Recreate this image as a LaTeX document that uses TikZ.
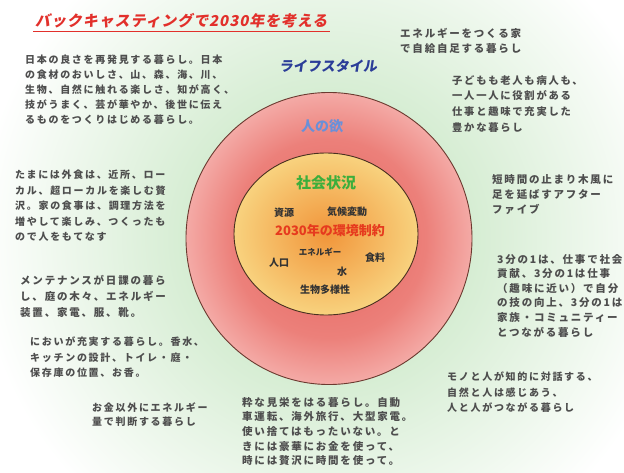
\documentclass[tikz,border=0pt]{standalone}
\usepackage{fontspec}
\newfontfamily\jp{Noto Sans CJK JP}[LetterSpace=17]
\newfontfamily\jpn{Noto Sans CJK JP}
\newfontfamily\jpt{Noto Sans CJK JP}[FakeSlant=0.2,LetterSpace=6]
\newfontfamily\jps{Noto Sans CJK JP}[FakeSlant=0.15]
\newcommand\tf[2]{\jp\bfseries\fontsize{#1}{#2}\selectfont}
\definecolor{txtgray}{HTML}{4E4E4E}
\definecolor{bgG}{HTML}{D6EDD3}
\definecolor{redC}{HTML}{E4625D}
\definecolor{redM}{HTML}{EC807A}
\definecolor{redE}{HTML}{F4AAA6}
\definecolor{orC}{HTML}{F1953A}
\definecolor{orE}{HTML}{F8D27E}
\definecolor{rim}{HTML}{6B3A30}
\definecolor{rimo}{HTML}{4A3020}
\definecolor{titred}{HTML}{E2302B}
\definecolor{lsblue}{HTML}{2B3D98}
\definecolor{yokublue}{HTML}{6A90D8}
\definecolor{shagreen}{HTML}{3CAE3C}
\definecolor{envred}{HTML}{E63A1E}
\definecolor{lbl}{HTML}{333333}
\pgfdeclareradialshading{bgsh}{\pgfpoint{0bp}{0bp}}{color(0bp)=(bgG); color(9bp)=(bgG); color(22bp)=(white); color(50bp)=(white)}
\pgfdeclareradialshading{redsh}{\pgfpoint{0bp}{0bp}}{color(0bp)=(redC); color(17bp)=(redM); color(25bp)=(redE); color(50bp)=(redE)}
\pgfdeclareradialshading{orsh}{\pgfpoint{0bp}{0bp}}{color(0bp)=(orC); color(25bp)=(orE); color(50bp)=(orE)}
\tikzset{
  txt/.style={inner sep=0pt, anchor=north west, align=left, text=txtgray, font=\tf{10.5}{15}},
  lab/.style={inner sep=0pt, text=lbl, font=\jpn\bfseries\fontsize{10}{10}\selectfont},
  ring/.style={line width=0.9pt},
}
\begin{document}
\begin{tikzpicture}[x=1pt,y=-1pt]
\useasboundingbox (0,0) rectangle (624,473);
\fill[white] (0,0) rectangle (624,473);
\shade[shading=bgsh] (-71,-162) rectangle (729,638);
\shadedraw[shading=redsh, draw=rim, ring] (329,238.5) ellipse[x radius=143pt, y radius=146pt];
\shadedraw[shading=orsh, draw=rimo, ring] (326,234) ellipse[x radius=92pt, y radius=81pt];

% title
\node[inner sep=0pt, anchor=west, text=titred, font=\jpt\bfseries\fontsize{15}{15}\selectfont] (title) at (35,21) {バックキャスティングで2030年を考える};
\draw[titred, line width=1.3pt] (33,31.5) -- (330,31.5);

% circle labels
\node[inner sep=0pt, text=lsblue, font=\jps\bfseries\fontsize{14}{14}\selectfont] (ls) at (328,66) {ライフスタイル};
\node[inner sep=0pt, text=yokublue, font=\jpn\bfseries\fontsize{14}{14}\selectfont] (yoku) at (322,126) {人の欲};
\node[inner sep=0pt, text=shagreen, font=\jpn\bfseries\fontsize{15}{15}\selectfont] (sha) at (326,183) {社会状況};
\node[inner sep=0pt, text=envred, font=\jpn\bfseries\fontsize{13}{13}\selectfont] (env) at (330,231) {2030年の環境制約};
\node[lab] (shigen) at (284,213) {資源};
\node[lab] (kiko) at (347,212) {気候変動};
\node[lab, font=\jpn\bfseries\fontsize{8.5}{8.5}\selectfont] (ene) at (320,252) {エネルギー};
\node[lab] (jinko) at (279,263) {人口};
\node[lab] (shoku) at (375,258) {食料};
\node[lab] (mizu) at (342,272) {水};
\node[lab] (seibutsu) at (325,290) {生物多様性};

% text blocks
\node[txt, font=\tf{10}{15}] (a) at (25,55) {日本の良さを再発見する暮らし。日本\\の食材のおいしさ、山、森、海、川、\\生物、自然に触れる楽しさ、知が高く、\\技がうまく、芸が華やか、後世に伝え\\るものをつくりはじめる暮らし。};
\node[txt, font=\tf{10.5}{15}] (b) at (400,28) {エネルギーをつくる家\\で自給自足する暮らし};
\node[txt, font=\tf{10.3}{15.7}] (c) at (452,75) {子どもも老人も病人も、\\一人一人に役割がある\\仕事と趣味で充実した\\豊かな暮らし};
\node[txt, font=\tf{10}{15.5}] (d) at (15,170) {たまには外食は、近所、ロー\\カル、超ローカルを楽しむ贅\\沢。家の食事は、調理方法を\\増やして楽しみ、つくったも\\ので人をもてなす};
\node[txt] (e) at (492,174) {短時間の止まり木風に\\足を延ばすアフター\\ファイブ};
\node[txt, font=\tf{10.5}{14.6}] (f) at (497,254) {3分の1は、仕事で社会\\貢献、3分の1は仕事\\（趣味に近い）で自分\\の技の向上、3分の1は\\家族・コミュニティー\\とつながる暮らし};
\node[txt, font=\tf{10}{15.5}] (g) at (447,372) {モノと人が知的に対話する、\\自然と人は感じあう、\\人と人がつながる暮らし};
\node[txt, font=\tf{10.5}{16}] (h) at (20,275) {メンテナンスが日課の暮ら\\し、庭の木々、エネルギー\\装置、家電、服、靴。};
\node[txt, font=\tf{10}{15.5}] (i) at (30,337) {においが充実する暮らし。香水、\\キッチンの設計、トイレ・庭・\\保存庫の位置、お香。};
\node[txt, font=\tf{10}{14}] (j) at (92,403) {お金以外にエネルギー\\量で判断する暮らし};
\node[txt, font=\tf{10.5}{14.7}] (k) at (242,397) {粋な見栄をはる暮らし。自動\\車運転、海外旅行、大型家電。\\使い捨てはもったいない。と\\きには豪華にお金を使って、\\時には贅沢に時間を使って。};
\end{tikzpicture}
\end{document}
